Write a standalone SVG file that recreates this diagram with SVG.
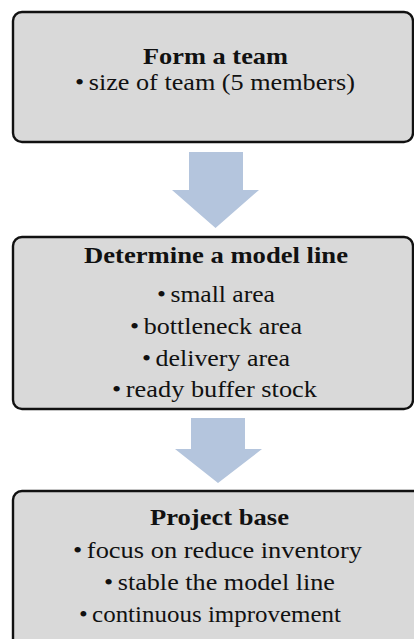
<svg xmlns="http://www.w3.org/2000/svg" width="414" height="639" viewBox="0 0 414 639">
  <style>
    .box { fill: #d9d9d9; stroke: #111; stroke-width: 2.4; }
    .arrow { fill: #b4c5dd; stroke: none; }
    text { font-family: 'Liberation Serif', 'Times New Roman', serif; fill: #111; }
    .h { font-size: 24px; font-weight: bold; }
    .b { font-size: 23px; }
  </style>
  <rect width="414" height="639" fill="#ffffff"/>
  <g id="connectors">
    <polygon class="arrow" points="189,152 243,152 243,190 259,190 215.5,228 172,190 189,190"/>
    <polygon class="arrow" points="191,418 245,418 245,449 262,449 218,483 175,449 191,449"/>
  </g>
  <g id="node-form-team">
    <rect class="box" x="13" y="12" width="400" height="130" rx="9"/>
    <text class="h" x="143" y="64" textLength="145" lengthAdjust="spacingAndGlyphs">Form a team</text>
    <text class="b" x="75" y="90" textLength="280" lengthAdjust="spacingAndGlyphs">•<tspan dx="4">size of team (5 members)</tspan></text>
  </g>
  <g id="node-model-line">
    <rect class="box" x="13" y="237" width="400" height="172" rx="9"/>
    <text class="h" x="84" y="263" textLength="264" lengthAdjust="spacingAndGlyphs">Determine a model line</text>
    <text class="b" x="157" y="302" textLength="118" lengthAdjust="spacingAndGlyphs">•<tspan dx="4">small area</tspan></text>
    <text class="b" x="130" y="334" textLength="172" lengthAdjust="spacingAndGlyphs">•<tspan dx="4">bottleneck area</tspan></text>
    <text class="b" x="142" y="366" textLength="148" lengthAdjust="spacingAndGlyphs">•<tspan dx="4">delivery area</tspan></text>
    <text class="b" x="112" y="397" textLength="205" lengthAdjust="spacingAndGlyphs">•<tspan dx="4">ready buffer stock</tspan></text>
  </g>
  <g id="node-project-base">
    <rect class="box" x="13" y="491" width="410" height="170" rx="9"/>
    <text class="h" x="150" y="525" textLength="139" lengthAdjust="spacingAndGlyphs">Project base</text>
    <text class="b" x="73" y="558" textLength="289" lengthAdjust="spacingAndGlyphs">•<tspan dx="4">focus on reduce inventory</tspan></text>
    <text class="b" x="104" y="590" textLength="231" lengthAdjust="spacingAndGlyphs">•<tspan dx="4">stable the model line</tspan></text>
    <text class="b" x="79" y="622" textLength="262" lengthAdjust="spacingAndGlyphs">•<tspan dx="4">continuous improvement</tspan></text>
  </g>
</svg>
